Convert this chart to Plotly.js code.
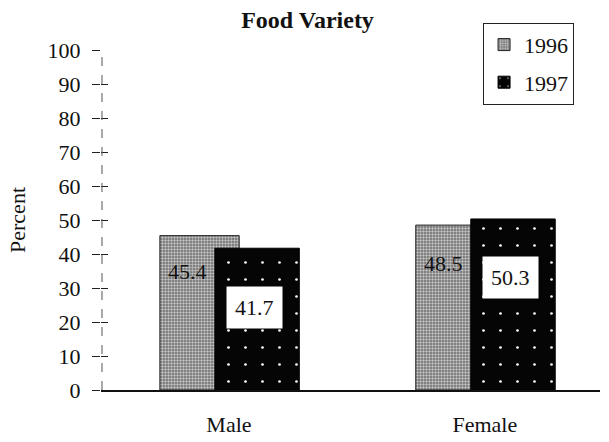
<!DOCTYPE html>
<html><head><meta charset="utf-8">
<script src="https://cdn.plot.ly/plotly-3.0.1.min.js"></script>
<style>html,body{margin:0;padding:0;background:#fff}#c{width:609px;height:442px}</style>
</head><body><div id="c"></div>
<script>
const categories = ["Male", "Female"];
const years = ["1996", "1997"];
const values1996 = [45.4, 48.5];
const values1997 = [41.7, 50.3];
const yTicks = [0,10,20,30,40,50,60,70,80,90,100];

const serif = "Liberation Serif, Times New Roman, serif";

const traces = [
  {type:"bar", name:years[0], legendgroup:"a", x:categories, y:values1996, offset:-0.27, width:0.31,
   marker:{color:"#6e6e6e", line:{color:"#222", width:1},
     pattern:{shape:".", fgcolor:"#c4c4c4", bgcolor:"#6a6a6a", size:3, solidity:0.5}}},
  {type:"bar", name:years[1], legendgroup:"b", x:categories, y:values1997, offset:-0.055, width:0.33,
   marker:{color:"#050505", line:{color:"#000", width:1},
     pattern:{shape:".", fgcolor:"#ffffff", bgcolor:"#050505", size:17, solidity:0.02}}},
  {type:"scatter", mode:"markers", x:categories, y:[null,null], yaxis:"y2", showlegend:false,
   hoverinfo:"skip", marker:{opacity:0}}
];

const annotations = [];
categories.forEach((c,i)=>{
  annotations.push({x:c, y:values1996[i]*0.77, xref:"x", yref:"y", xshift:-41,
    text:values1996[i].toFixed(1), showarrow:false, font:{family:serif,size:22,color:"#111"}});
  annotations.push({x:c, y:values1997[i]*(i===0?0.58:0.66), xref:"x", yref:"y", xshift:26,
    text:values1997[i].toFixed(1), showarrow:false, bgcolor:"#ffffff", borderpad:8,
    font:{family:serif,size:22,color:"#111"}});
});

const layout = {
  width:609, height:442,
  margin:{l:101, r:9, t:50, b:52},
  paper_bgcolor:"#fff", plot_bgcolor:"#fff",
  barmode:"overlay",
  title:{text:"<b>Food Variety</b>", x:0.505, xanchor:"center", y:0.955, yanchor:"middle",
    font:{family:serif, size:24, color:"#111"}},
  xaxis:{type:"category", range:[-0.5,1.45], showline:true, linecolor:"#111", linewidth:1.5,
    ticks:"", ticklabelstandoff:14, showgrid:false, zeroline:false,
    tickfont:{family:serif,size:22,color:"#111"}},
  yaxis:{range:[0,100], tickvals:yTicks, ticktext:yTicks.map(String), ticks:"outside", ticklen:8,
    tickcolor:"#222", ticklabelstandoff:7, showline:false, showgrid:false, zeroline:false,
    tickfont:{family:serif,size:22,color:"#111"},
    title:{text:"Percent", standoff:15, font:{family:serif,size:22,color:"#111"}}},
  yaxis2:{range:[0,100], overlaying:"y", side:"left", tickvals:yTicks, ticks:"inside", ticklen:7,
    tickcolor:"#222", showticklabels:false, showline:false, showgrid:false, zeroline:false},
  shapes:[{type:"line", xref:"paper", yref:"y", x0:0.002, x1:0.002, y0:0, y1:100,
    line:{color:"#555", width:1, dash:"dash"}}],
  legend:{x:0.948, xanchor:"right", y:1.08, yanchor:"top", bordercolor:"#222", borderwidth:1,
    bgcolor:"#fff", font:{family:serif,size:22,color:"#111"}, traceorder:"grouped",
    itemwidth:30, tracegroupgap:6},
  annotations:annotations,
  showlegend:true
};
Plotly.newPlot("c", traces, layout, {displayModeBar:false, staticPlot:true});
</script></body></html>
